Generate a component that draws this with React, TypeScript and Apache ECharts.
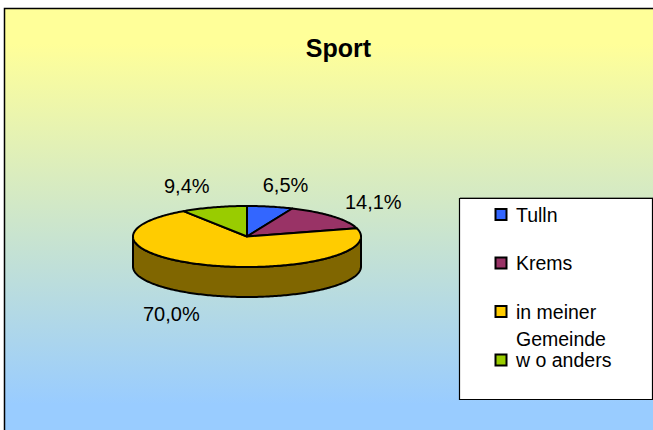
import React, { useEffect, useRef } from "react";
import * as echarts from "echarts";

// ---- data ----
const TITLE = "Sport";
const CATEGORIES = ["Tulln", "Krems", "in meiner Gemeinde", "w o anders"];
const VALUES = [6.5, 14.1, 70.0, 9.4];
const COLORS = ["#3366FF", "#993366", "#FFCC00", "#99CC00"];
const SIDE_COLORS = ["#1a3380", "#4d1a33", "#806600", "#4d6600"];

// ---- layout ----
const W = 653;
const H = 430;
const CX = 247;
const CY = 236.5;
const RX = 114;
const RY = 30.5;
const DEPTH = 30;
const FONT = "'Liberation Sans', Arial, sans-serif";

const fmt = (v: number) => v.toFixed(1).replace(".", ",") + "%";

function wrap(text: string, max: number): string {
  const words = text.split(" ");
  const lines: string[] = [];
  let cur = "";
  for (const w of words) {
    const cand = cur ? cur + " " + w : w;
    if (cand.length > max && cur) {
      lines.push(cur);
      cur = w;
    } else cur = cand;
  }
  if (cur) lines.push(cur);
  return lines.join("\n");
}

export default function App() {
  const ref = useRef<HTMLDivElement>(null);
  useEffect(() => {
    document.body.style.margin = "0";
    const chart = echarts.init(ref.current!, undefined, { renderer: "svg" });
    const total = VALUES.reduce((a, b) => a + b, 0);
    const rad = (d: number) => (d * Math.PI) / 180;
    const pt = (deg: number, dy = 0) => [
      CX + RX * Math.sin(rad(deg)),
      CY - RY * Math.cos(rad(deg)) + dy,
    ];
    const arc = (a: number, b: number, dy = 0) => {
      const pts: number[][] = [];
      const n = Math.max(2, Math.ceil((b - a) / 1));
      for (let k = 0; k <= n; k++) pts.push(pt(a + ((b - a) * k) / n, dy));
      return pts;
    };

    const renderItem = (params: any, api: any) => {
      const i = params.dataIndex;
      let before = 0;
      for (let k = 0; k < i; k++) before += VALUES[k];
      const start = (before / total) * 360;
      const end = ((before + VALUES[i]) / total) * 360;
      const children: any[] = [];
      const a = Math.max(start, 90);
      const b = Math.min(end, 270);
      if (a < b) {
        const top = arc(a, b);
        const bot = arc(a, b, DEPTH).reverse();
        children.push({
          type: "polygon",
          shape: { points: top.concat(bot) },
          style: { fill: SIDE_COLORS[i], stroke: "#000", lineWidth: 2, lineJoin: "round" },
          z2: 1,
        });
      }
      children.push({
        type: "polygon",
        shape: { points: [[CX, CY]].concat(arc(start, end)) },
        style: { fill: COLORS[i], stroke: "#000", lineWidth: 2, lineJoin: "round" },
        z2: 2,
      });
      const mid = (start + end) / 2;
      const s = Math.sin(rad(mid));
      const c = Math.cos(rad(mid));
      const text = fmt(VALUES[i]);
      const fs = 20;
      const w = text.length * fs * 0.55;
      const ax = CX + (RX + 20) * s;
      const ay = CY - (RY + 21) * c + (c < 0 ? DEPTH : 0);
      const f = Math.max(-1, Math.min(1, 3 * s));
      children.push({
        type: "text",
        style: {
          text,
          x: ax + (w / 2) * f - 2,
          y: ay - 1,
          align: "center",
          verticalAlign: "middle",
          fontSize: fs,
          fontFamily: FONT,
          fill: "#000",
        },
        z2: 3,
      });
      return { type: "group", children };
    };

    const legendEls: any[] = [];
    legendEls.push({
      type: "rect",
      shape: { x: 459.5, y: 198.5, width: 193, height: 201 },
      style: { fill: "#fff", stroke: "#000", lineWidth: 1.2, shadowColor: "rgba(0,0,0,0.35)", shadowOffsetX: 1, shadowOffsetY: -1 },
      z: 5,
    });
    CATEGORIES.forEach((name, i) => {
      const yi = 214.5 + i * 48.5;
      legendEls.push({
        type: "rect",
        shape: { x: 495.5, y: yi - 5.5, width: 11, height: 11 },
        style: { fill: COLORS[i], stroke: "#000", lineWidth: 2 },
        z: 6,
      });
      legendEls.push({
        type: "text",
        style: {
          text: wrap(name, 12),
          x: 516,
          y: yi - 13.5,
          lineHeight: 27,
          align: "left",
          verticalAlign: "top",
          fontSize: 19.5,
          fontFamily: FONT,
          fill: "#000",
        },
        z: 6,
      });
    });

    chart.setOption({
      animation: false,
      title: {
        text: TITLE,
        left: 333.5,
        textAlign: "center",
        top: 30,
        textStyle: { fontSize: 25, fontWeight: "bold", fontFamily: FONT, color: "#000" },
      },
      graphic: [
        {
          type: "rect",
          shape: { x: 4.5, y: 8.5, width: 660, height: 440 },
          style: {
            fill: {
              type: "linear",
              x: 0,
              y: 0,
              x2: 0,
              y2: 1,
              colorStops: [
                { offset: 0, color: "#FFFF99" },
                { offset: 0.08, color: "#FFFF99" },
                { offset: 0.9, color: "#99CCFF" },
                { offset: 1, color: "#99CCFF" },
              ],
            },
            stroke: "#000",
            lineWidth: 1.5,
          },
          z: -10,
        },
        ...legendEls,
      ],
      series: [
        {
          type: "custom",
          name: TITLE,
          coordinateSystem: "none",
          renderItem,
          data: VALUES.map((v, i) => ({ name: CATEGORIES[i], value: v })),
        },
      ],
    });
    return () => chart.dispose();
  }, []);
  return <div ref={ref} style={{ width: W, height: H }} />;
}
